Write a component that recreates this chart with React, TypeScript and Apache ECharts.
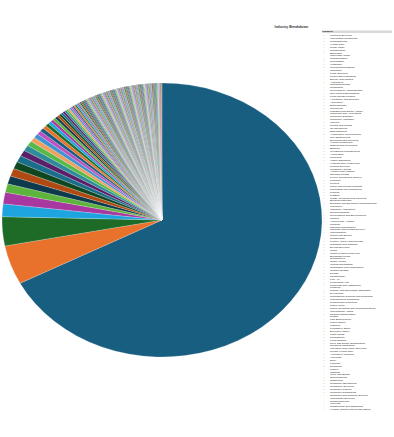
import React, { useEffect, useRef } from "react";
import * as echarts from "echarts";

const chartTitle = "Industry Breakdown";
const legendHeader = "Industry";

const categories: string[] = [
  "Financial Services","Information Technology","Manufacturing","Health Care","Retail Trade","Construction","Education","Wholesale Trade","Transportation","Real Estate",
  "Hospitality","Telecommunications","Insurance","Legal Services","Media and Publishing","Energy and Utilities","Automotive","Pharmaceuticals","Consulting","Government Administration",
  "Non-profit Organizations","Food and Beverages","Aerospace and Defense","Agriculture","Biotechnology","Chemicals","Logistics and Supply Chain","Marketing and Advertising","Computer Software","Computer Hardware",
  "Internet","Mining and Metals","Oil and Energy","Entertainment","Architecture and Planning","Civil Engineering","Environmental Services","Human Resources","Staffing and Recruiting","Banking",
  "Investment Management","Accounting","Research","Higher Education","Hospital and Health Care","Medical Devices","Consumer Goods","Apparel and Fashion","Sporting Goods","Luxury Goods and Jewelry",
  "Furniture","Textiles","Paper and Forest Products","Packaging and Containers","Printing","Plastics","Glass, Ceramics and Concrete","Building Materials","Electrical and Electronic Manufacturing","Machinery",
  "Industrial Automation","Semiconductors","Renewables and Environment","Utilities","Airlines and Aviation","Maritime","Railroad Manufacture","Package and Freight Delivery","Warehousing","Import and Export",
  "Restaurants","Leisure, Travel and Tourism","Gambling and Casinos","Events Services","Music","Motion Pictures and Film","Broadcast Media","Newspapers","Online Media","Writing and Editing",
  "Translation and Localization","Graphic Design","Design","Photography","Fine Art","Performing Arts","Museums and Institutions","Libraries","Primary and Secondary Education","E-Learning",
  "Professional Training and Coaching","Management Consulting","Program Development","Public Policy","Public Relations and Communications","International Affairs","Political Organization","Military","Law Enforcement","Public Safety",
  "Judiciary","Legislative Office","Executive Office","Think Tanks","Philanthropy","Fund-Raising","Civic and Social Organization","Religious Institutions","Individual and Family Services","Mental Health Care",
  "Alternative Medicine","Veterinary","Dairy","Farming","Ranching","Fishery","Tobacco","Wine and Spirits","Supermarkets","Cosmetics",
  "Consumer Electronics","Consumer Services","Computer Games","Computer Networking","Computer and Network Security","Information Services","Nanotechnology","Wireless","Outsourcing and Offshoring","Venture Capital and Private Equity",
];

const values: number[] = [
  67.2, 4.6, 3.4, 1.5, 1.36, 1.0,
  0.95, 0.92, 0.85, 0.78, 0.72, 0.66, 0.6, 0.55, 0.5, 0.46,
  0.42, 0.39, 0.36, 0.33, 0.31, 0.29, 0.27, 0.25, 0.24, 0.23,
  0.22, 0.21, 0.2, 0.19, 0.18, 0.17, 0.16, 0.15, 0.15, 0.14,
  0.14, 0.13, 0.13, 0.12, 0.12, 0.12, 0.11, 0.11, 0.11, 0.1,
  0.1, 0.1, 0.1, 0.1,
  0.1, 0.1, 0.1, 0.1, 0.1, 0.1, 0.1, 0.1, 0.1, 0.1,
  0.099, 0.099, 0.098, 0.098, 0.097, 0.097, 0.096, 0.096, 0.095, 0.095,
  0.095, 0.094, 0.094, 0.094, 0.093, 0.093, 0.093, 0.092, 0.092, 0.092,
  0.092, 0.091, 0.091, 0.091, 0.091, 0.09, 0.09, 0.09, 0.09, 0.09,
  0.09, 0.09, 0.089, 0.089, 0.089, 0.089, 0.089, 0.088, 0.088, 0.088,
  0.088, 0.088, 0.087, 0.087, 0.087, 0.087, 0.087, 0.086, 0.086, 0.086,
  0.086, 0.086, 0.086, 0.085, 0.085, 0.085, 0.085, 0.085, 0.085, 0.085,
  0.085, 0.085, 0.084, 0.084, 0.084, 0.084, 0.084, 0.084, 0.084, 0.084,
];

const palette: string[] = [
  "#175e81", "#e8712c", "#1d6b26", "#1ea5df", "#a8379f", "#5db43c",
  "#0d3a4c", "#b04a12", "#0f4820", "#1b6d8c", "#5a1f68", "#2e8b9a",
  "#57b947", "#f0a060", "#3f93d0", "#c050c0",
];

const SX = 1.168;
const W = 394 / SX;
const H = 437;

export default function App() {
  const ref = useRef<HTMLDivElement>(null);
  useEffect(() => {
    document.body.style.margin = "0";
    if (!ref.current) return;
    const chart = echarts.init(ref.current, null, { renderer: "svg" });
    const data = categories.map((name, i) => ({ name, value: values[i] }));
    chart.setOption({
      animation: false,
      color: palette,
      textStyle: { fontFamily: "Liberation Sans, Arial, sans-serif" },
      graphic: [
        {
          type: "text",
          left: 235,
          top: 25.5,
          style: { text: chartTitle, fontSize: 3, fontWeight: "bold", fill: "#333" },
        },
        {
          type: "rect",
          shape: { x: 275.7, y: 30.4, width: 60, height: 2.6 },
          style: { fill: "#d9d9d9" },
        },
        {
          type: "text",
          left: 276,
          top: 30.6,
          style: { text: legendHeader, fontSize: 2.3, fontWeight: "bold", fill: "#222" },
        },
      ],
      legend: {
        type: "plain",
        orient: "vertical",
        left: 275.7,
        top: 34,
        padding: 0,
        itemWidth: 1.4,
        itemHeight: 1.4,
        itemGap: -0.5,
        icon: "circle",
        textStyle: { fontSize: 2.3, lineHeight: 2.6, color: "#222", padding: [0, 0, 0, -0.5] },
        data: categories,
      },
      series: [
        {
          type: "pie",
          center: [162 / SX, 220],
          radius: 137,
          startAngle: 90,
          clockwise: true,
          avoidLabelOverlap: false,
          label: { show: false },
          labelLine: { show: false },
          emphasis: { disabled: true },
          itemStyle: { borderColor: "#ffffff", borderWidth: 0.18 },
          data,
        },
      ],
    });
    return () => chart.dispose();
  }, []);
  return (
    <div
      ref={ref}
      style={{
        position: "absolute",
        left: 0,
        top: 0,
        width: W + "px",
        height: H + "px",
        transform: `scaleX(${SX})`,
        transformOrigin: "0 0",
      }}
    />
  );
}
